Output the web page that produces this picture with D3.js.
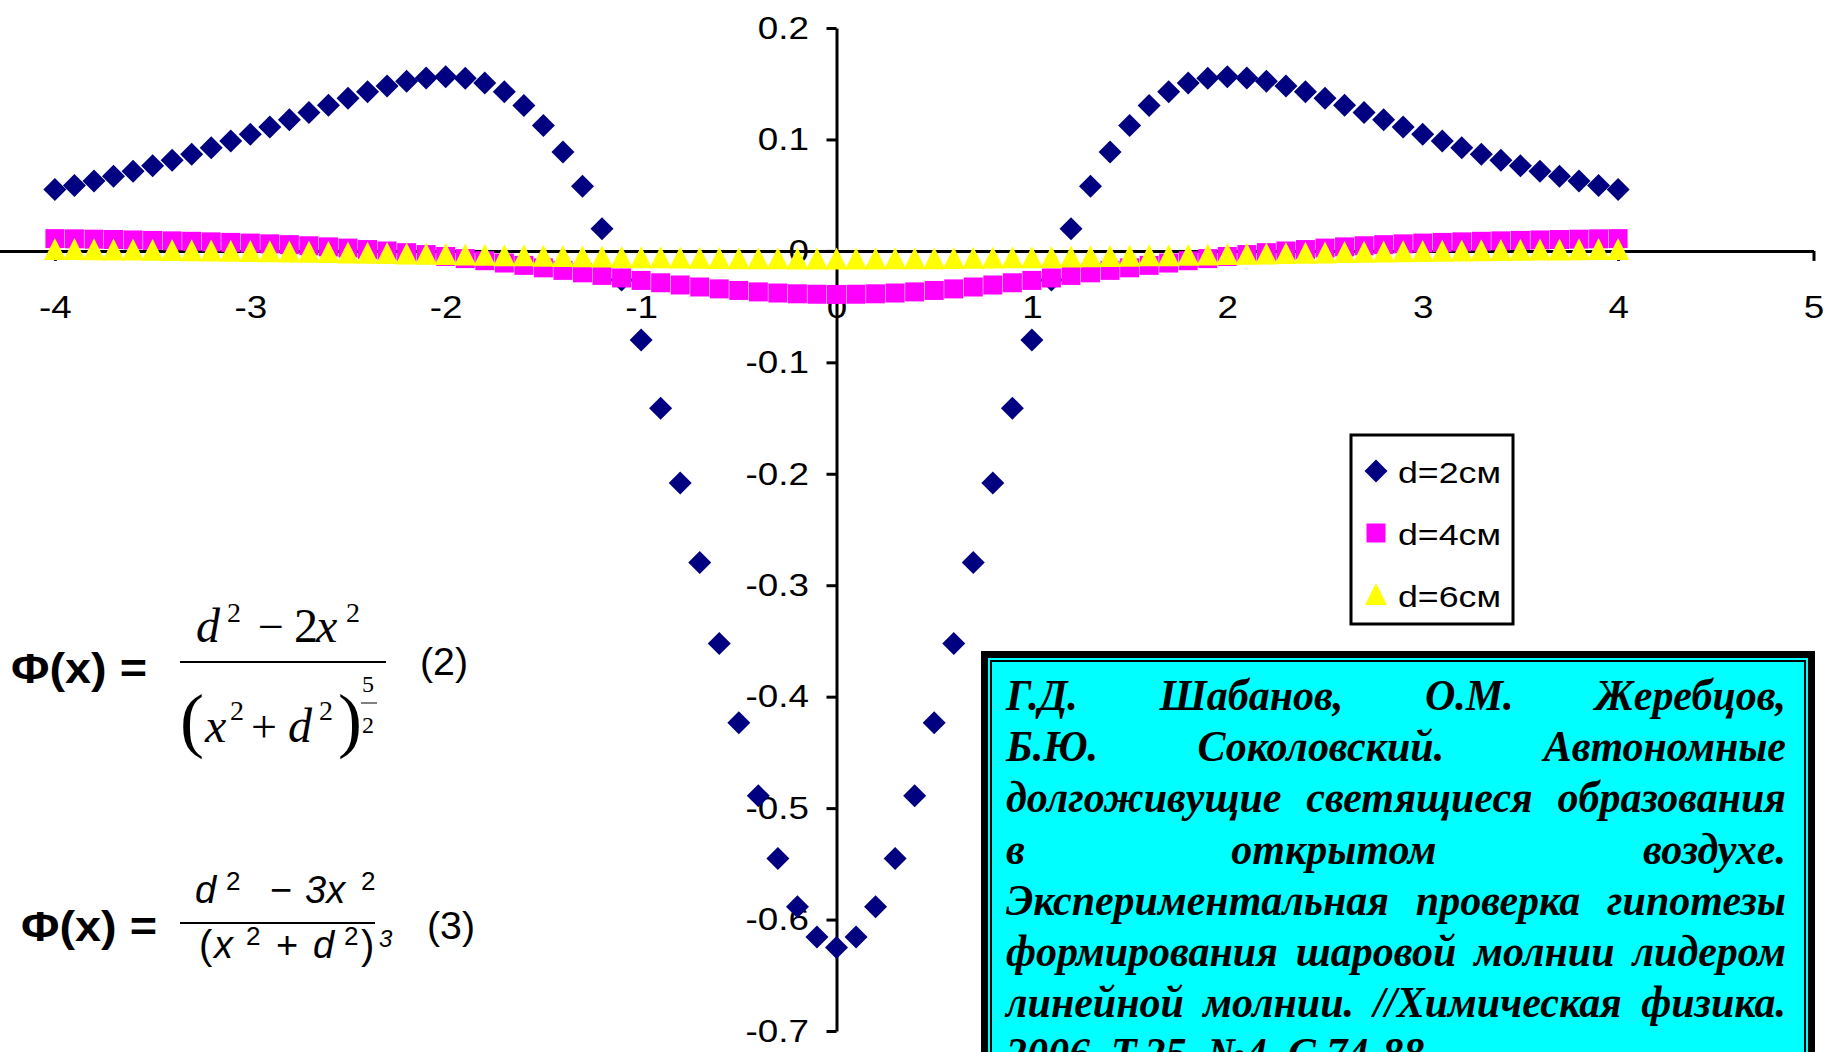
<!DOCTYPE html>
<html lang="ru">
<head>
<meta charset="UTF-8">
<title>Φ(x)</title>
<script src="https://d3js.org/d3.v7.min.js"></script>
<style>
  body { margin: 0; background: #fff; }
  svg { display: block; }
  .sans { font-family: Arial, "Liberation Sans", sans-serif; }
  .serif { font-family: "Times New Roman", "Liberation Serif", serif; }
</style>
</head>
<body>
<div id="chart"></div>
<script>
// x, step 0.1
const xValues = [-4, -3.9, -3.8, -3.7, -3.6, -3.5, -3.4, -3.3, -3.2, -3.1,
  -3, -2.9, -2.8, -2.7, -2.6, -2.5, -2.4, -2.3, -2.2, -2.1,
  -2, -1.9, -1.8, -1.7, -1.6, -1.5, -1.4, -1.3, -1.2, -1.1,
  -1, -0.9, -0.8, -0.7, -0.6, -0.5, -0.4, -0.3, -0.2, -0.1,
  0,
  0.1, 0.2, 0.3, 0.4, 0.5, 0.6, 0.7, 0.8, 0.9, 1,
  1.1, 1.2, 1.3, 1.4, 1.5, 1.6, 1.7, 1.8, 1.9, 2,
  2.1, 2.2, 2.3, 2.4, 2.5, 2.6, 2.7, 2.8, 2.9, 3,
  3.1, 3.2, 3.3, 3.4, 3.5, 3.6, 3.7, 3.8, 3.9, 4];

const d2cm = [0.0550, 0.0587, 0.0627, 0.0670, 0.0715, 0.0763, 0.0814, 0.0868, 0.0925, 0.0985,
  0.1047, 0.1111, 0.1176, 0.1242, 0.1307, 0.1370, 0.1428, 0.1480, 0.1523, 0.1552,
  0.1563, 0.1550, 0.1507, 0.1428, 0.1304, 0.1126, 0.0888, 0.0581, 0.0199, -0.0262,
  -0.0800, -0.1411, -0.2082, -0.2795, -0.3523, -0.4234, -0.4890, -0.5452, -0.5884, -0.6157,
  -0.6250,
  -0.6157, -0.5884, -0.5452, -0.4890, -0.4234, -0.3523, -0.2795, -0.2082, -0.1411, -0.0800,
  -0.0262, 0.0199, 0.0581, 0.0888, 0.1126, 0.1304, 0.1428, 0.1507, 0.1550, 0.1563,
  0.1552, 0.1523, 0.1480, 0.1428, 0.1370, 0.1307, 0.1242, 0.1176, 0.1111, 0.1047,
  0.0985, 0.0925, 0.0868, 0.0814, 0.0763, 0.0715, 0.0670, 0.0627, 0.0587, 0.0550];

const d4cm = [0.0110, 0.0108, 0.0105, 0.0102, 0.0098, 0.0094, 0.0090, 0.0086, 0.0081, 0.0076,
  0.0070, 0.0063, 0.0056, 0.0046, 0.0036, 0.0025, 0.0012, -0.0001, -0.0016, -0.0033,
  -0.0050, -0.0069, -0.0088, -0.0109, -0.0130, -0.0152, -0.0175, -0.0197, -0.0220, -0.0243,
  -0.0265, -0.0286, -0.0306, -0.0324, -0.0341, -0.0355, -0.0368, -0.0378, -0.0385, -0.0389,
  -0.0391,
  -0.0389, -0.0385, -0.0378, -0.0368, -0.0355, -0.0341, -0.0324, -0.0306, -0.0286, -0.0265,
  -0.0243, -0.0220, -0.0197, -0.0175, -0.0152, -0.0130, -0.0109, -0.0088, -0.0069, -0.0050,
  -0.0033, -0.0016, -0.0001, 0.0012, 0.0025, 0.0036, 0.0046, 0.0056, 0.0063, 0.0070,
  0.0076, 0.0081, 0.0086, 0.0090, 0.0094, 0.0098, 0.0102, 0.0105, 0.0108, 0.0110];

const d6cm = [0.0009, 0.0007, 0.0006, 0.0004, 0.0003, 0.0001, -0.0001, -0.0003, -0.0005, -0.0008,
  -0.0010, -0.0012, -0.0015, -0.0017, -0.0020, -0.0023, -0.0026, -0.0029, -0.0032, -0.0035,
  -0.0038, -0.0041, -0.0044, -0.0047, -0.0049, -0.0052, -0.0055, -0.0058, -0.0060, -0.0063,
  -0.0065, -0.0067, -0.0069, -0.0071, -0.0073, -0.0074, -0.0075, -0.0076, -0.0077, -0.0077,
  -0.0077,
  -0.0077, -0.0077, -0.0076, -0.0075, -0.0074, -0.0073, -0.0071, -0.0069, -0.0067, -0.0065,
  -0.0063, -0.0060, -0.0058, -0.0055, -0.0052, -0.0049, -0.0047, -0.0044, -0.0041, -0.0038,
  -0.0035, -0.0032, -0.0029, -0.0026, -0.0023, -0.0020, -0.0017, -0.0015, -0.0012, -0.0010,
  -0.0008, -0.0005, -0.0003, -0.0001, 0.0001, 0.0003, 0.0004, 0.0006, 0.0007, 0.0009];

const seriesNames = ["d=2см", "d=4см", "d=6см"];
const xTicks = [-4, -3, -2, -1, 0, 1, 2, 3, 4, 5];
const yTicks = [0.2, 0.1, 0, -0.1, -0.2, -0.3, -0.4, -0.5, -0.6, -0.7];

const citeLines = [
  "Г.Д. Шабанов, О.М. Жеребцов,",
  "Б.Ю. Соколовский. Автономные",
  "долгоживущие светящиеся образования",
  "в открытом воздухе.",
  "Экспериментальная проверка гипотезы",
  "формирования шаровой молнии лидером",
  "линейной молнии. //Химическая физика.",
  "2006. Т.25. №4. С.74-88."
];

const width = 1826, height = 1052;
const stretch = 1.15; // sans text in the picture is a bit wide

const svg = d3.select("#chart").append("svg")
  .attr("width", width)
  .attr("height", height);

svg.append("rect").attr("width", width).attr("height", height).attr("fill", "#fff");

// axis runs on past the left edge, as in the picture
const x = d3.scaleLinear().domain([-5, 5]).range([-140.5, 1813.5]);
const y = d3.scaleLinear().domain([-0.7, 0.2]).range([1031, 28]);

// axes
const xAxis = svg.append("g")
  .attr("class", "sans")
  .attr("transform", "translate(0," + y(0) + ")")
  .call(d3.axisBottom(x).tickValues(xTicks).tickSize(10).tickSizeOuter(0).tickPadding(34)
    .tickFormat(d => String(d)));

const yAxis = svg.append("g")
  .attr("class", "sans")
  .attr("transform", "translate(" + x(0) + ",0)")
  .call(d3.axisLeft(y).tickValues(yTicks).tickSize(10).tickSizeOuter(0).tickPadding(14)
    .tickFormat(d => String(d)));

[xAxis, yAxis].forEach(g => {
  g.select(".domain").attr("stroke", "#000").attr("stroke-width", 3);
  g.selectAll(".tick line").attr("stroke", "#000").attr("stroke-width", 3);
  g.selectAll(".tick text")
    .attr("fill", "#000")
    .attr("font-size", 32)
    .attr("font-family", "Arial, 'Liberation Sans', sans-serif")
    .attr("transform", "scale(" + stretch + ",1)");
});

// markers
const diamond = "M0,-11.5L11.5,0L0,11.5L-11.5,0Z";
const square = "M-9.5,-9.5H9.5V9.5H-9.5Z";
const triangle = "M0,-12L11,10L-11,10Z";

const series = [
  { name: seriesNames[0], values: d2cm, shape: diamond, color: "#000080" },
  { name: seriesNames[1], values: d4cm, shape: square, color: "#FF00FF" },
  { name: seriesNames[2], values: d6cm, shape: triangle, color: "#FFFF00" }
];

series.forEach(s => {
  svg.append("g").selectAll("path")
    .data(s.values.map((v, i) => ({ x: xValues[i], y: v })))
    .join("path")
    .attr("d", s.shape)
    .attr("fill", s.color)
    .attr("transform", d => "translate(" + x(d.x) + "," + y(d.y) + ")");
});

// legend
const legend = svg.append("g");
legend.append("rect")
  .attr("x", 1351).attr("y", 435).attr("width", 162).attr("height", 189)
  .attr("fill", "#fff").attr("stroke", "#000").attr("stroke-width", 3);
series.forEach((s, i) => {
  const cy = 471 + i * 62;
  legend.append("path")
    .attr("d", s.shape)
    .attr("fill", s.color)
    .attr("transform", "translate(1376," + cy + ")");
  legend.append("text")
    .attr("class", "sans")
    .attr("x", 1398).attr("y", cy + 12)
    .attr("font-size", 30)
    .attr("textLength", 103).attr("lengthAdjust", "spacingAndGlyphs")
    .text(s.name);
});

// formula (2)
const f2 = svg.append("g");
f2.append("text").attr("class", "sans").attr("x", 11).attr("y", 683)
  .attr("font-size", 42).attr("font-weight", "bold")
  .attr("textLength", 136).attr("lengthAdjust", "spacingAndGlyphs").text("Φ(x) =");
function ser(g, txt, px, py, size, italic) {
  g.append("text").attr("class", "serif").attr("x", px).attr("y", py)
    .attr("font-size", size).attr("font-style", italic ? "italic" : "normal").text(txt);
}
ser(f2, "d", 196, 642, 48, true);
ser(f2, "2", 227, 622, 28, false);
ser(f2, "−", 258, 642, 46, false);
ser(f2, "2", 294, 642, 48, false);
ser(f2, "x", 316, 642, 48, true);
ser(f2, "2", 346, 622, 28, false);
f2.append("line").attr("x1", 180).attr("x2", 386).attr("y1", 662).attr("y2", 662)
  .attr("stroke", "#000").attr("stroke-width", 2);
ser(f2, "(", 180, 744, 72, false);
ser(f2, "x", 205, 742, 48, true);
ser(f2, "2", 230, 720, 28, false);
ser(f2, "+", 251, 742, 46, false);
ser(f2, "d", 288, 742, 48, true);
ser(f2, "2", 319, 720, 28, false);
ser(f2, ")", 338, 744, 72, false);
ser(f2, "5", 362, 692, 24, false);
f2.append("line").attr("x1", 361).attr("x2", 377).attr("y1", 703).attr("y2", 703)
  .attr("stroke", "#000").attr("stroke-width", 1);
ser(f2, "2", 362, 733, 24, false);
f2.append("text").attr("class", "sans").attr("x", 420).attr("y", 675)
  .attr("font-size", 38).attr("textLength", 48).attr("lengthAdjust", "spacingAndGlyphs").text("(2)");

// formula (3)
const f3 = svg.append("g");
f3.append("text").attr("class", "sans").attr("x", 21).attr("y", 941)
  .attr("font-size", 42).attr("font-weight", "bold")
  .attr("textLength", 136).attr("lengthAdjust", "spacingAndGlyphs").text("Φ(x) =");
function san(g, txt, px, py, size, italic) {
  g.append("text").attr("class", "sans").attr("x", px).attr("y", py)
    .attr("font-size", size).attr("font-style", italic ? "italic" : "normal").text(txt);
}
san(f3, "d", 195, 903, 38, true);
san(f3, "2", 226, 890, 26, false);
san(f3, "−", 270, 903, 38, false);
san(f3, "3x", 305, 903, 38, true);
san(f3, "2", 361, 890, 26, false);
f3.append("line").attr("x1", 180).attr("x2", 375).attr("y1", 923).attr("y2", 923)
  .attr("stroke", "#000").attr("stroke-width", 2);
san(f3, "(", 199, 959, 40, false);
san(f3, "x", 214, 958, 38, true);
san(f3, "2", 246, 945, 26, false);
san(f3, "+", 276, 958, 38, false);
san(f3, "d", 313, 958, 38, true);
san(f3, "2", 344, 945, 26, false);
san(f3, ")", 361, 959, 40, false);
san(f3, "3", 379, 947, 24, true);
f3.append("text").attr("class", "sans").attr("x", 427).attr("y", 939)
  .attr("font-size", 38).attr("textLength", 48).attr("lengthAdjust", "spacingAndGlyphs").text("(3)");

// citation box
const box = svg.append("g");
box.append("rect").attr("x", 981).attr("y", 651).attr("width", 834).attr("height", 500).attr("fill", "#000");
box.append("rect").attr("x", 988).attr("y", 658).attr("width", 820).attr("height", 490).attr("fill", "#00FFFF");
box.append("rect").attr("x", 991).attr("y", 661).attr("width", 814).attr("height", 490)
  .attr("fill", "#00FFFF").attr("stroke", "#000").attr("stroke-width", 2);

const textLeft = 1006, textRight = 1786, textW = textRight - textLeft;
const cite = box.append("g")
  .attr("font-family", "'Times New Roman', 'Liberation Serif', serif")
  .attr("font-weight", "bold").attr("font-style", "italic").attr("font-size", 44);

const measured = citeLines.map(line => line.split(" ").map(w => {
  const t = cite.append("text").text(w);
  const len = t.node().getComputedTextLength();
  t.remove();
  return { w: w, len: len };
}));
const minGap = 18;
let sx = 1;
measured.forEach((words, i) => {
  if (i === measured.length - 1) return;
  const sum = d3.sum(words, d => d.len);
  sx = Math.min(sx, (textW - minGap * (words.length - 1)) / sum);
});
measured.forEach((words, i) => {
  const sum = d3.sum(words, d => d.len) * sx;
  const last = i === measured.length - 1;
  const gap = last ? 11 * sx : (textW - sum) / (words.length - 1);
  let cx = textLeft;
  const base = 710 + i * 51.2;
  words.forEach(d => {
    cite.append("text")
      .attr("transform", "translate(" + cx + "," + base + ") scale(" + sx + ",1)")
      .text(d.w);
    cx += d.len * sx + gap;
  });
});
</script>
</body>
</html>
